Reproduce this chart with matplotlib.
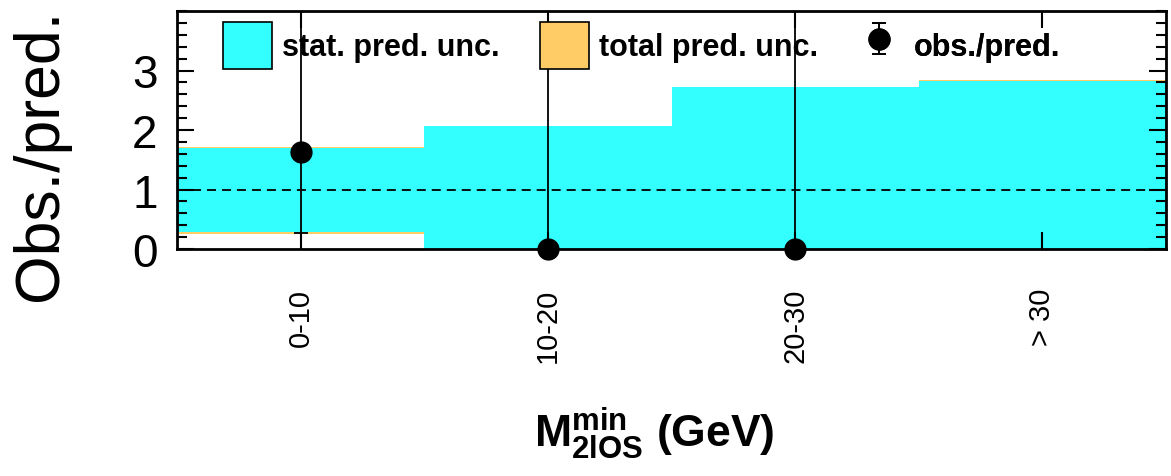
import matplotlib
matplotlib.use("Agg")
import matplotlib.pyplot as plt
import numpy as np
from matplotlib.patches import Patch
from matplotlib.ticker import MultipleLocator

plt.rcParams['font.family'] = ['Liberation Sans', 'DejaVu Sans']
plt.rcParams['mathtext.fontset'] = 'custom'
plt.rcParams['mathtext.rm'] = 'Liberation Sans:bold'
plt.rcParams['mathtext.bf'] = 'Liberation Sans:bold'
plt.rcParams['mathtext.it'] = 'Liberation Sans:bold'

categories = ["0-10", "10-20", "20-30", "> 30"]
stat_lo = [0.28, 0.0, 0.0, 0.0]
stat_hi = [1.69, 2.06, 2.72, 2.83]
tot_lo = [0.26, 0.0, 0.0, 0.0]
tot_hi = [1.71, 2.07, 2.73, 2.84]
obs_ratio = [1.63, 0.0, 0.0]
obs_err_lo = [1.36, 0.0, 0.0]
obs_err_hi = [5.0, 5.0, 5.0]

W, H = 1171, 477
fig = plt.figure(figsize=(W/100, H/100), dpi=100)
ax = fig.add_axes([177/W, 1-250/H, (1166-177)/W, (250-12)/H])

n = len(categories)
x = np.arange(n)
for i in range(n):
    ax.fill_between([i-0.5, i+0.5], tot_lo[i], tot_hi[i], color='#ffcc66', lw=0)
    ax.fill_between([i-0.5, i+0.5], stat_lo[i], stat_hi[i], color='#33ffff', lw=0)

ax.axhline(1.0, color='black', ls=(0, (5, 3.3)), lw=1.3)

eb = ax.errorbar(x[:len(obs_ratio)], obs_ratio, yerr=[obs_err_lo, obs_err_hi], fmt='o',
                 color='black', ms=15, elinewidth=1.3, capsize=5, capthick=1.3,
                 zorder=5)
eb.lines[0].set_clip_on(False)

ax.set_xlim(-0.5, n-0.5)
ax.set_ylim(0, 4)
ax.set_xticks(x)
ax.set_xticklabels(categories, rotation=90, fontsize=21)
ax.set_yticks([0, 1, 2, 3])
ax.yaxis.set_minor_locator(MultipleLocator(0.2))
ax.tick_params(axis='y', which='major', direction='in', length=12, width=1.5,
               left=True, right=True, labelsize=33, pad=14)
ax.tick_params(axis='y', which='minor', direction='in', length=7, width=1.5,
               left=True, right=True)
ax.tick_params(axis='x', which='major', direction='in', length=12, width=1.5,
               top=True, bottom=True, pad=28)
for s in ax.spines.values():
    s.set_linewidth(2)

ax.set_ylabel('Obs./pred.', fontsize=45)
ax.yaxis.set_label_coords(-0.108, 0.40)
ax.set_xlabel(r'$\mathbf{M^{min}_{2lOS}}$ (GeV)', fontsize=32, fontweight='bold', va='top')
ax.xaxis.set_label_coords(0.483, -0.655)

handles = [Patch(facecolor='#33ffff', edgecolor='black', lw=1.2),
           Patch(facecolor='#ffcc66', edgecolor='black', lw=1.2),
           eb]
labels = ['stat. pred. unc.', 'total pred. unc.', 'obs./pred.']
left_px = [223, 540, 855]
for h, lab, lp in zip(handles, labels, left_px):
    lg = ax.legend([h], [lab], frameon=False, loc='upper left',
                   bbox_to_anchor=((lp-177)/989, (250-23)/238),
                   borderaxespad=0, borderpad=0,
                   prop={'weight': 'bold', 'size': 22},
                   handlelength=1.6, handleheight=2.0, handletextpad=0.32)
    ax.add_artist(lg)

fig.savefig('out.png', dpi=100)
